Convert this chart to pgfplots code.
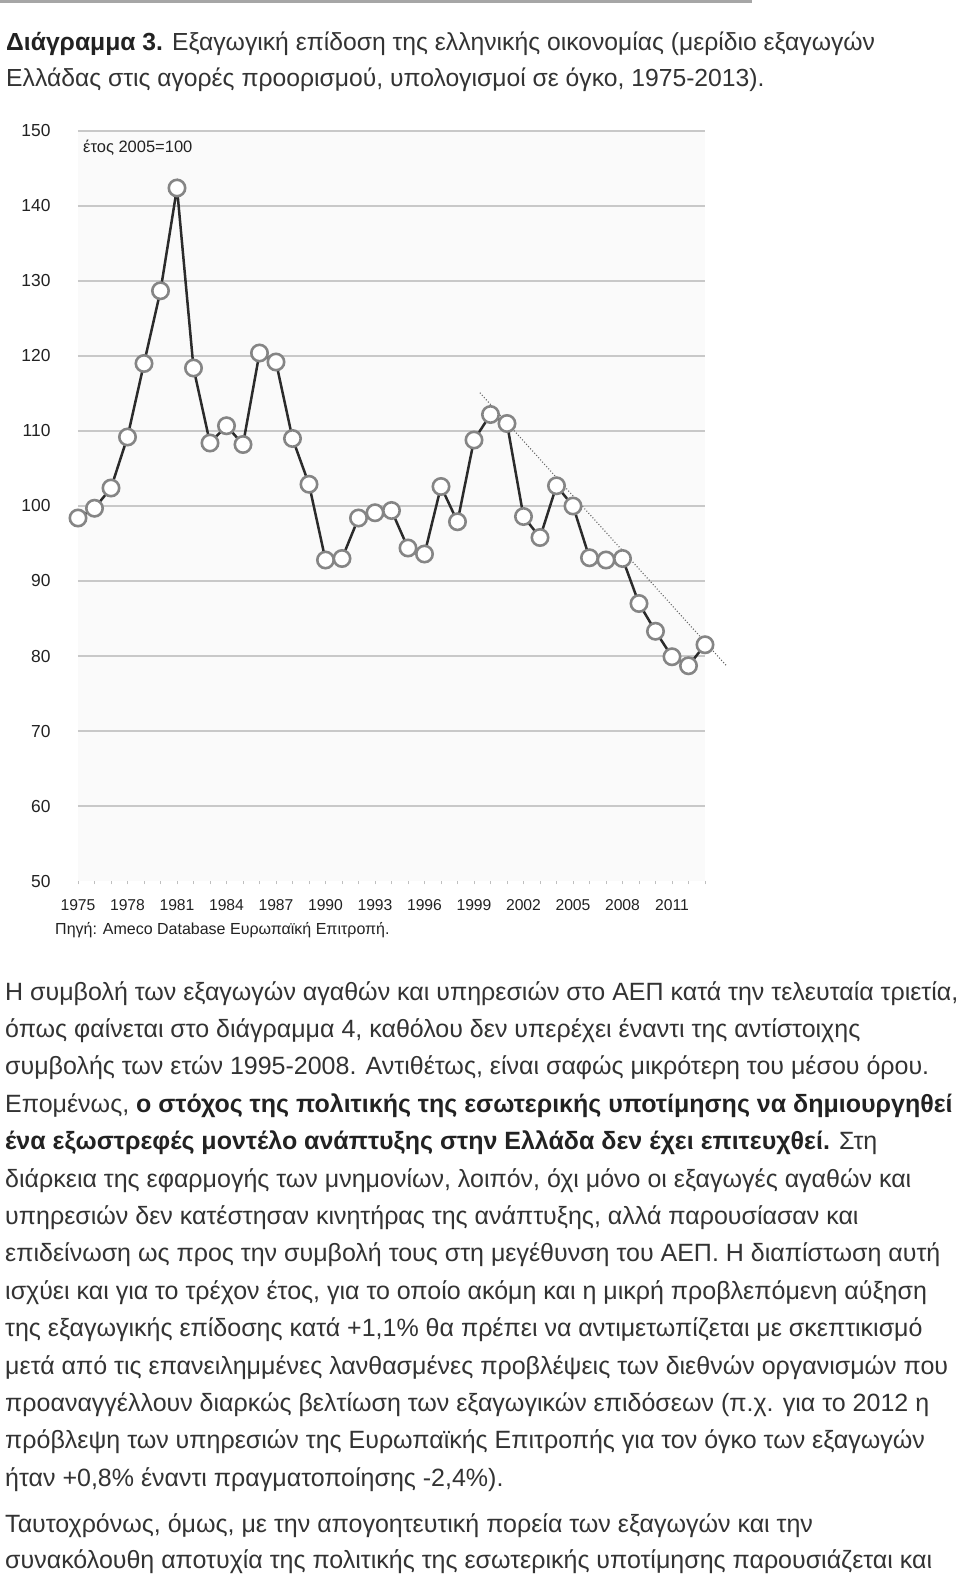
\documentclass[border=0pt]{standalone}
\usepackage{fontspec}
\setmainfont{Liberation Sans}
\usepackage{pgfplots}
\pgfplotsset{compat=1.18}
\definecolor{txt}{HTML}{333333}
\definecolor{boldtxt}{HTML}{222222}
\definecolor{bgc}{HTML}{FAFAFA}
\definecolor{gridc}{HTML}{C8C8C8}
\definecolor{linec}{HTML}{2B2B2B}
\definecolor{markc}{HTML}{858585}
\definecolor{trendc}{HTML}{666666}
\newcommand{\bodyfont}{\fontsize{25}{37.4}\selectfont\color{txt}}
\newcommand{\titlefont}{\fontsize{24.7}{37.4}\selectfont\color{txt}}
\begin{document}
\begin{tikzpicture}
\useasboundingbox (0pt,0pt) rectangle (960pt,-1575pt);
\fill[white] (0pt,0pt) rectangle (960pt,-1575pt);
\draw[gray!70, line width=3pt] (0pt,-1.5pt) -- (752pt,-1.5pt);
% title
\node[anchor=base west, inner sep=0pt] at (6pt,-50pt) {\titlefont\textbf{\color{boldtxt}Διάγραμμα 3.} Εξαγωγική επίδοση της ελληνικής οικονομίας (μερίδιο εξαγωγών};
\node[anchor=base west, inner sep=0pt] at (6pt,-86.5pt) {\titlefont Ελλάδας στις αγορές προορισμού, υπολογισμοί σε όγκο, 1975-2013).};

\begin{axis}[
  at={(78pt,-881pt)}, anchor=south west,
  scale only axis, width=627pt, height=750pt,
  xmin=1975, xmax=2013, ymin=50, ymax=150,
  clip=false,
  axis background/.style={fill=bgc},
  axis line style={draw=none},
  ytick={60,70,...,150},
  extra y ticks={50},
  extra y tick style={grid=none},
  ymajorgrids, grid style={gridc, line width=1.5pt},
  xtick={1975,1978,...,2011},
  minor xtick={1975,...,2013},
  tick align=outside,
  major tick length=3pt, minor tick length=3pt,
  xtick style={gray!50, line width=0.8pt},
  ytick style={draw=none},
  tick pos=left,
  /pgf/number format/assume math mode=true,
  /pgf/number format/1000 sep={},
  yticklabel style={font=\fontsize{17.4}{20}\selectfont, text=boldtxt, anchor=east, xshift=-21pt},
  xticklabel style={font=\fontsize{15.7}{18}\selectfont, text=boldtxt, anchor=base, yshift=-26pt},
]
\addplot[color=linec, line width=2.5pt, mark=*, mark size=8.2pt,
  mark options={draw=markc, fill=white, line width=2.6pt}] coordinates {
(1975,98.4) (1976,99.7) (1977,102.4) (1978,109.2) (1979,119.0) (1980,128.7)
(1981,142.4) (1982,118.4) (1983,108.4) (1984,110.7) (1985,108.2) (1986,120.4)
(1987,119.2) (1988,109.0) (1989,102.9) (1990,92.8) (1991,93.0) (1992,98.4)
(1993,99.1) (1994,99.4) (1995,94.4) (1996,93.6) (1997,102.6) (1998,97.9)
(1999,108.8) (2000,112.2) (2001,111.0) (2002,98.6) (2003,95.8) (2004,102.7)
(2005,100.0) (2006,93.1) (2007,92.8) (2008,93.0) (2009,87.0) (2010,83.3)
(2011,79.9) (2012,78.7) (2013,81.5)};
\addplot[color=trendc, line width=1.1pt, dash pattern=on 1pt off 2pt] coordinates {
(1999.36,115.1) (2014.3,78.7)};
\end{axis}

\node[anchor=base west, inner sep=0pt] at (83pt,-152pt) {\fontsize{16.5}{18}\selectfont\color{boldtxt}έτος 2005=100};
\node[anchor=base west, inner sep=0pt] at (55pt,-934pt) {\fontsize{16}{18}\selectfont\color{boldtxt}Πηγή: Ameco Database Ευρωπαϊκή Επιτροπή.};

% body text
\node[anchor=base west, inner sep=0pt] at (5pt,-1000pt) {\bodyfont Η συμβολή των εξαγωγών αγαθών και υπηρεσιών στο ΑΕΠ κατά την τελευταία τριετία,};
\node[anchor=base west, inner sep=0pt] at (5pt,-1037.4pt) {\bodyfont όπως φαίνεται στο διάγραμμα 4, καθόλου δεν υπερέχει έναντι της αντίστοιχης};
\node[anchor=base west, inner sep=0pt] at (5pt,-1074.8pt) {\bodyfont συμβολής των ετών 1995-2008. Αντιθέτως, είναι σαφώς μικρότερη του μέσου όρου.};
\node[anchor=base west, inner sep=0pt] at (5pt,-1112.2pt) {\bodyfont Επομένως, \textbf{\color{boldtxt}ο στόχος της πολιτικής της εσωτερικής υποτίμησης να δημιουργηθεί}};
\node[anchor=base west, inner sep=0pt] at (5pt,-1149.6pt) {\bodyfont \textbf{\color{boldtxt}ένα εξωστρεφές μοντέλο ανάπτυξης στην Ελλάδα δεν έχει επιτευχθεί.} Στη};
\node[anchor=base west, inner sep=0pt] at (5pt,-1187pt) {\bodyfont διάρκεια της εφαρμογής των μνημονίων, λοιπόν, όχι μόνο οι εξαγωγές αγαθών και};
\node[anchor=base west, inner sep=0pt] at (5pt,-1224.4pt) {\bodyfont υπηρεσιών δεν κατέστησαν κινητήρας της ανάπτυξης, αλλά παρουσίασαν και};
\node[anchor=base west, inner sep=0pt] at (5pt,-1261.8pt) {\bodyfont επιδείνωση ως προς την συμβολή τους στη μεγέθυνση του ΑΕΠ. Η διαπίστωση αυτή};
\node[anchor=base west, inner sep=0pt] at (5pt,-1299.2pt) {\bodyfont ισχύει και για το τρέχον έτος, για το οποίο ακόμη και η μικρή προβλεπόμενη αύξηση};
\node[anchor=base west, inner sep=0pt] at (5pt,-1336.6pt) {\bodyfont της εξαγωγικής επίδοσης κατά +1,1\% θα πρέπει να αντιμετωπίζεται με σκεπτικισμό};
\node[anchor=base west, inner sep=0pt] at (5pt,-1374pt) {\bodyfont μετά από τις επανειλημμένες λανθασμένες προβλέψεις των διεθνών οργανισμών που};
\node[anchor=base west, inner sep=0pt] at (5pt,-1411.4pt) {\bodyfont προαναγγέλλουν διαρκώς βελτίωση των εξαγωγικών επιδόσεων (π.χ. για το 2012 η};
\node[anchor=base west, inner sep=0pt] at (5pt,-1448.8pt) {\bodyfont πρόβλεψη των υπηρεσιών της Ευρωπαϊκής Επιτροπής για τον όγκο των εξαγωγών};
\node[anchor=base west, inner sep=0pt] at (5pt,-1486.2pt) {\bodyfont ήταν +0,8\% έναντι πραγματοποίησης -2,4\%).};
\node[anchor=base west, inner sep=0pt] at (5pt,-1532pt) {\bodyfont Ταυτοχρόνως, όμως, με την απογοητευτική πορεία των εξαγωγών και την};
\node[anchor=base west, inner sep=0pt] at (5pt,-1568.5pt) {\bodyfont συνακόλουθη αποτυχία της πολιτικής της εσωτερικής υποτίμησης παρουσιάζεται και};
\end{tikzpicture}
\end{document}
